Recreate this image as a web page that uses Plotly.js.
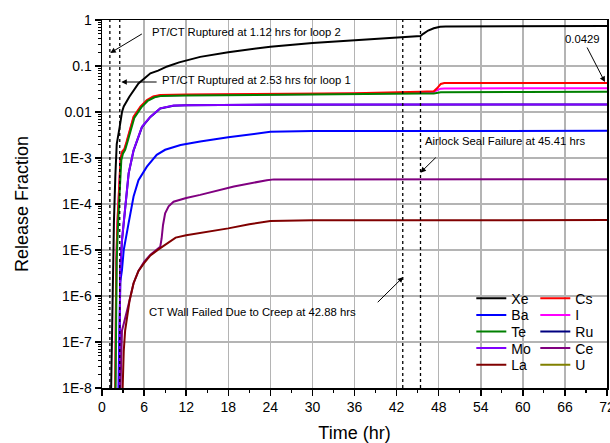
<!DOCTYPE html>
<html><head><meta charset="utf-8">
<script src="https://cdn.plot.ly/plotly-3.0.1.min.js"></script>
<style>html,body{margin:0;padding:0;background:#fff}#chart{width:610px;height:443px}</style>
</head><body><div id="chart"></div>
<script>
// ---- data (time in hours, release fraction) ----
const xeTime = [1.25, 1.4, 1.55, 1.7, 1.9, 2.1, 2.5, 2.85, 3.1, 3.6, 3.9, 5.2, 6.0, 6.9, 8.0, 9.3, 11, 14, 18, 21.6, 24, 30, 36, 42, 45.41, 45.8, 46.5, 47.3, 48.2, 49, 60, 72];
const xeRelease = [3.2e-9, 1e-7, 3.2e-6, 4e-5, 4e-4, 2e-3, 4.5e-3, 0.01, 0.0132, 0.0178, 0.0214, 0.0417, 0.0537, 0.0692, 0.0794, 0.0977, 0.120, 0.158, 0.200, 0.240, 0.263, 0.316, 0.363, 0.407, 0.447, 0.50, 0.59, 0.66, 0.71, 0.725, 0.738, 0.741];

const csTime = [1.85, 1.95, 2.05, 2.2, 2.45, 2.65, 2.9, 3.2, 3.5, 4.0, 4.5, 5.5, 6.4, 7.3, 8.3, 12, 24, 36, 45.41, 47.3, 47.8, 48.3, 48.8, 60, 72];
const csRelease = [3.2e-9, 3.2e-7, 6.3e-6, 4e-5, 3.2e-4, 1e-3, 1.41e-3, 1.58e-3, 2.24e-3, 4.07e-3, 7.9e-3, 0.0132, 0.0182, 0.0219, 0.0234, 0.0240, 0.0245, 0.0257, 0.0275, 0.0282, 0.0331, 0.0407, 0.0427, 0.0429, 0.0429];

const iTime = [1.85, 1.95, 2.05, 2.2, 2.45, 2.65, 2.9, 3.2, 3.5, 4.0, 4.5, 5.5, 6.4, 7.3, 8.3, 12, 24, 36, 45.41, 47.3, 47.8, 48.3, 48.8, 60, 72];
const iRelease = [3e-9, 3e-7, 6e-6, 3.8e-5, 3e-4, 9.5e-4, 1.35e-3, 1.52e-3, 2.15e-3, 3.9e-3, 7.6e-3, 0.0127, 0.0176, 0.0212, 0.0227, 0.0233, 0.0238, 0.0249, 0.0266, 0.0272, 0.0300, 0.0322, 0.0326, 0.0327, 0.0327];

const teTime = [1.9, 2.0, 2.1, 2.3, 2.55, 2.75, 3.0, 3.3, 3.6, 4.1, 4.6, 5.6, 6.5, 7.5, 8.5, 12, 24, 36, 45.41, 47.3, 47.8, 48.3, 60, 72];
const teRelease = [3.2e-9, 3.2e-7, 6.3e-6, 4e-5, 3.2e-4, 8.9e-4, 1.26e-3, 1.51e-3, 2.14e-3, 3.8e-3, 7.4e-3, 0.0126, 0.0174, 0.0209, 0.0224, 0.0229, 0.0234, 0.0240, 0.0251, 0.0254, 0.0263, 0.0269, 0.0272, 0.0275];

const baTime = [2.3, 2.45, 2.6, 2.85, 3.1, 3.8, 4.5, 5.2, 6.4, 7.8, 9.0, 11.2, 14, 18, 22, 24, 30, 72];
const baRelease = [3.2e-9, 3.2e-7, 2e-6, 3.7e-6, 1e-5, 3.9e-5, 1.45e-4, 3.3e-4, 6.5e-4, 1.17e-3, 1.51e-3, 1.91e-3, 2.29e-3, 2.82e-3, 3.47e-3, 3.72e-3, 3.85e-3, 3.89e-3];

const moTime = [2.45, 2.5, 2.6, 2.85, 3.3, 3.8, 4.5, 5.0, 5.7, 6.9, 8.3, 10.2, 12, 24, 72];
const moRelease = [3.2e-9, 1e-7, 3.7e-6, 1.66e-5, 8.7e-5, 4.7e-4, 1.48e-3, 2.45e-3, 4.8e-3, 7.9e-3, 0.0120, 0.0138, 0.0141, 0.0145, 0.0146];

const ruTime = [2.45, 2.5, 2.6, 2.85, 3.3, 3.8, 4.5, 5.0, 5.7, 6.9, 8.3, 10.2, 12, 24, 72];
const ruRelease = [3.2e-9, 1e-7, 3.6e-6, 1.6e-5, 8.5e-5, 4.6e-4, 1.45e-3, 2.4e-3, 4.7e-3, 7.8e-3, 0.0119, 0.0137, 0.0140, 0.0144, 0.0145];

const ceTime = [2.55, 2.7, 2.85, 3.1, 3.3, 3.6, 4.0, 4.5, 5.2, 6.0, 6.9, 8.0, 8.3, 8.5, 8.7, 9.0, 9.5, 10.2, 12, 14, 18.8, 23.5, 24.5, 72];
const ceRelease = [3.2e-9, 6.3e-8, 1.78e-7, 2.5e-7, 3.2e-7, 5e-7, 8.9e-7, 1.9e-6, 3.5e-6, 5.5e-6, 7.9e-6, 1.07e-5, 1.17e-5, 1.78e-5, 3.5e-5, 6.3e-5, 8.9e-5, 1.12e-4, 1.35e-4, 1.58e-4, 2.4e-4, 3.3e-4, 3.43e-4, 3.47e-4];

const laTime = [2.85, 2.95, 3.1, 3.3, 3.6, 3.94, 4.5, 5.2, 6.0, 6.9, 8.0, 9.0, 10.5, 12, 15, 18, 21, 24, 30, 72];
const laRelease = [3.2e-9, 2.5e-8, 6.3e-8, 1.78e-7, 4e-7, 8.1e-7, 1.9e-6, 3.5e-6, 5.2e-6, 7.6e-6, 1.02e-5, 1.32e-5, 1.86e-5, 2.09e-5, 2.45e-5, 2.95e-5, 3.63e-5, 4.27e-5, 4.42e-5, 4.47e-5];

const uTime = [3, 8, 24, 48, 72];
const uRelease = [1e-10, 5e-10, 2e-9, 4e-9, 5e-9];

const eventTimes = [1.12, 2.53, 42.88, 45.41];
const xTickVals = [0, 6, 12, 18, 24, 30, 36, 42, 48, 54, 60, 66, 72];
const yTickVals = [1, 0.1, 0.01, 1e-3, 1e-4, 1e-5, 1e-6, 1e-7, 1e-8];
const yTickText = ['1', '0.1', '0.01', '1E-3', '1E-4', '1E-5', '1E-6', '1E-7', '1E-8'];

// ---- traces ----
const FONT = 'Liberation Sans, Arial, Helvetica, sans-serif';
function line(name, x, y, color, legend, rank) {
  return {type: 'scatter', mode: 'lines', name: name, x: x, y: y,
    line: {color: color, width: 2}, legend: legend, legendrank: rank};
}
const traces = [
  line('U', uTime, uRelease, '#808000', 'legend5', 2),
  line('Ru', ruTime, ruRelease, '#000080', 'legend3', 2),
  line('I', iTime, iRelease, '#ff00ff', 'legend2', 2),
  line('Xe', xeTime, xeRelease, '#000000', 'legend', 1),
  line('Ba', baTime, baRelease, '#0000ff', 'legend2', 1),
  line('Cs', csTime, csRelease, '#ff0000', 'legend', 2),
  line('Te', teTime, teRelease, '#008000', 'legend3', 1),
  line('Mo', moTime, moRelease, '#8000ff', 'legend4', 1),
  line('Ce', ceTime, ceRelease, '#800080', 'legend4', 2),
  line('La', laTime, laRelease, '#800000', 'legend5', 1)
];

// ---- annotations ----
const L = Math.log10;
const annFont = {family: FONT, size: 11.3, color: '#000'};
function label(text, x, y, xanchor) {
  return {text: text, x: x, y: L(y), xref: 'x', yref: 'y', xanchor: xanchor, yanchor: 'middle', showarrow: false, font: annFont};
}
function arrow(x0, y0, x1, y1) {
  return {text: '', x: x1, y: L(y1), ax: x0, ay: L(y0), xref: 'x', yref: 'y', axref: 'x', ayref: 'y',
    showarrow: true, arrowhead: 2, arrowsize: 1.1, arrowwidth: 1, arrowcolor: '#000'};
}
const annotations = [
  label('PT/CT Ruptured at 1.12 hrs for loop 2', 6.89, 0.55, 'left'),
  arrow(5.9, 0.52, 1.18, 0.192),
  label('PT/CT Ruptured at 2.53 hrs for loop 1', 8.31, 0.0497, 'left'),
  arrow(8.0, 0.0449, 2.75, 0.0449),
  label('0.0429', 68.5, 0.386, 'center'),
  arrow(69.05, 0.272, 71.7, 0.0449),
  label('Airlock Seal Failure at 45.41 hrs', 45.81, 2.34e-3, 'left'),
  arrow(47.8, 1.1e-3, 45.4, 4.8e-4),
  label('CT Wall Failed Due to Creep at 42.88 hrs', 6.46, 4.5e-7, 'left'),
  arrow(39.1, 6.8e-7, 42.95, 2.59e-6)
];

const shapes = eventTimes.map(t => ({type: 'line', xref: 'x', yref: 'paper', x0: t, x1: t, y0: 0, y1: 1,
  line: {color: '#000', width: 1.3, dash: 'dot'}}));

// ---- legends: one horizontal legend per row ----
const rowY = [0.2425, 0.1974, 0.1523, 0.1073, 0.0622];
const legendKeys = ['legend', 'legend2', 'legend3', 'legend4', 'legend5'];

const layout = {
  width: 610, height: 443,
  margin: {l: 102, r: 3, t: 20, b: 55, pad: 0},
  paper_bgcolor: '#fff', plot_bgcolor: '#fff',
  font: {family: FONT, size: 14, color: '#000'},
  showlegend: true,
  xaxis: {
    range: [0, 72], tickmode: 'array', tickvals: xTickVals,
    ticks: 'outside', ticklen: 6, tickwidth: 1.5, tickcolor: '#000',
    showline: true, linewidth: 1.5, linecolor: '#000', mirror: true,
    showgrid: true, gridcolor: '#b4b4b4', gridwidth: 1.5, zeroline: false,
    minor: {ticks: 'outside', ticklen: 3.5, tickwidth: 1.2, tickcolor: '#000', dtick: 3, showgrid: false},
    tickfont: {size: 14, family: FONT}, ticklabeloverflow: 'allow',
    title: {text: 'Time (hr)', font: {size: 18, family: FONT}, standoff: 15}
  },
  yaxis: {
    type: 'log', range: [-8, 0], tickmode: 'array', tickvals: yTickVals, ticktext: yTickText,
    ticks: 'outside', ticklen: 6, tickwidth: 1.5, tickcolor: '#000',
    showline: true, linewidth: 1.5, linecolor: '#000', mirror: true,
    showgrid: true, gridcolor: '#b4b4b4', gridwidth: 1.5, zeroline: false,
    minor: {ticks: 'outside', ticklen: 3, tickwidth: 1, tickcolor: '#000', dtick: 'D1', showgrid: false},
    tickfont: {size: 14, family: FONT},
    title: {text: 'Release Fraction', font: {size: 18, family: FONT}, standoff: 29}
  },
  xaxis2: {
    range: [0, 72], overlaying: 'x', anchor: 'y', side: 'top', tickmode: 'array', tickvals: xTickVals,
    ticks: 'inside', ticklen: 5, tickwidth: 1.2, tickcolor: '#000', showticklabels: false,
    showgrid: false, showline: false, zeroline: false,
    minor: {ticks: 'inside', ticklen: 3, tickwidth: 1, tickcolor: '#000', dtick: 3, showgrid: false}
  },
  yaxis2: {
    type: 'log', range: [-8, 0], overlaying: 'y', anchor: 'x', side: 'right', tickmode: 'array', tickvals: yTickVals,
    ticks: 'inside', ticklen: 5, tickwidth: 1.2, tickcolor: '#000', showticklabels: false,
    showgrid: false, showline: false, zeroline: false,
    minor: {ticks: 'inside', ticklen: 3, tickwidth: 1, tickcolor: '#000', dtick: 'D1', showgrid: false}
  },
  annotations: annotations,
  shapes: shapes
};
legendKeys.forEach((k, i) => {
  layout[k] = {orientation: 'h', x: 0.7313, y: rowY[i], xanchor: 'left', yanchor: 'middle',
    xref: 'paper', yref: 'paper', bgcolor: 'rgba(0,0,0,0)', borderwidth: 0,
    font: {size: 14, family: FONT, color: '#000'}, entrywidth: 19, entrywidthmode: 'pixels',
    itemwidth: 30, traceorder: 'normal', tracegroupgap: 0};
});

Plotly.newPlot('chart', traces, layout, {displayModeBar: false, staticPlot: true});
</script>
</body></html>
